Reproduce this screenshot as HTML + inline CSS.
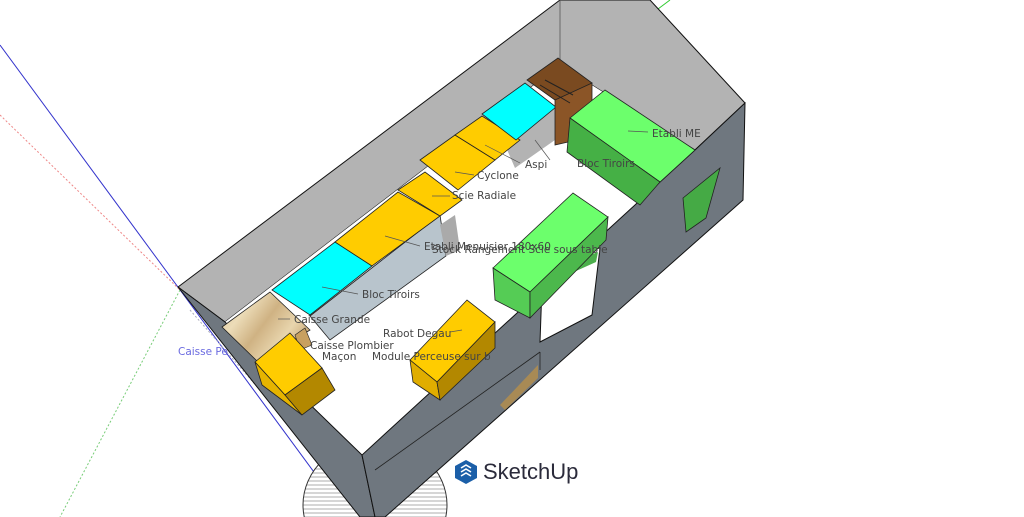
<!DOCTYPE html>
<html><head><meta charset="utf-8"><style>
html,body{margin:0;padding:0;background:#fff;width:1024px;height:517px;overflow:hidden}
svg{display:block}
text{font-family:"DejaVu Sans","Liberation Sans",sans-serif;font-size:10.5px;fill:#444}
</style></head><body>
<svg width="1024" height="517" viewBox="0 0 1024 517">
<defs>
<pattern id="hatch" width="6" height="4" patternUnits="userSpaceOnUse"><rect width="6" height="4" fill="#fff"/><line x1="0" y1="1" x2="6" y2="1" stroke="#999" stroke-width="0.8"/></pattern>
<linearGradient id="wood" x1="0" y1="0" x2="1" y2="0.6"><stop offset="0" stop-color="#d9c194"/><stop offset="0.3" stop-color="#ecdcb8"/><stop offset="0.55" stop-color="#cfb283"/><stop offset="0.8" stop-color="#e8d5ad"/><stop offset="1" stop-color="#c8a878"/></linearGradient>
</defs>
<!-- axis lines -->
<line x1="0" y1="45" x2="347" y2="517" stroke="#3333cc" stroke-width="1"/>
<line x1="0" y1="115" x2="180" y2="290" stroke="#e88" stroke-width="1" stroke-dasharray="2,2"/>
<line x1="180" y1="290" x2="60" y2="517" stroke="#7c7" stroke-width="1" stroke-dasharray="2,2"/>
<line x1="650" y1="15" x2="670" y2="0" stroke="#3c3" stroke-width="1"/>
<line x1="190" y1="310" x2="330" y2="470" stroke="#aab" stroke-width="1" stroke-dasharray="2,2"/>
<!-- hatched cylinder -->
<ellipse cx="375" cy="505" rx="72" ry="65" fill="url(#hatch)" stroke="#333" stroke-width="1"/>
<!-- floor -->
<polygon points="178,287 560,0 650,0 745,103 375,505" fill="#fff"/>
<!-- back wall gray -->
<polygon points="178,287 560,0 650,0 745,103 695,150 560,65 225,322" fill="#b3b3b3" stroke="#111" stroke-width="1"/>
<line x1="560" y1="0" x2="560" y2="65" stroke="#555" stroke-width="0.8"/>
<!-- floor interior -->
<polygon points="225,322 560,65 695,150 362,455" fill="#fff"/>
<!-- left short wall -->
<polygon points="178,287 225,322 362,455 375,517 360,517" fill="#6f777f" stroke="#111" stroke-width="1"/>
<!-- front wall -->
<polygon points="695,150 745,103 743,200 385,517 375,517 362,455" fill="#6f777f" stroke="#111" stroke-width="1"/>
<line x1="375" y1="470" x2="540" y2="352" stroke="#222" stroke-width="0.8"/>
<line x1="540" y1="352" x2="540" y2="370" stroke="#222" stroke-width="0.8"/>
<polygon points="500,405 538,365 538,378 505,410" fill="#a88a55"/>
<!-- windows -->
<polygon points="543,258 600,248 592,315 540,342" fill="#fff" stroke="#111" stroke-width="1"/>
<polygon points="545,272 598,252 596,262 545,285" fill="#4caf4c"/>
<polygon points="683,198 720,168 706,218 686,232" fill="#45aa45" stroke="#222" stroke-width="0.8"/>
<!-- counter front gray face -->
<polygon points="310,316 440,215 446,256 330,340" fill="#b8c4cc" stroke="#222" stroke-width="0.8"/>
<polygon points="440,225 455,215 460,250 446,256" fill="#aaa"/>
<polygon points="505,145 555,108 555,140 515,168" fill="#b3b3b3"/>
<!-- top units -->
<polygon points="222,327 270,292 310,330 258,362" fill="url(#wood)" stroke="#222" stroke-width="0.8"/>
<polygon points="272,290 335,242 372,266 310,315" fill="#00ffff" stroke="#222" stroke-width="0.8"/>
<polygon points="335,242 398,192 440,216 372,266" fill="#ffcc00" stroke="#222" stroke-width="0.8"/>
<polygon points="398,190 425,172 462,200 440,216" fill="#ffcc00" stroke="#222" stroke-width="0.8"/>
<polygon points="420,160 455,135 495,160 458,190" fill="#ffcc00" stroke="#222" stroke-width="0.8"/>
<polygon points="455,135 482,116 520,140 495,160" fill="#ffcc00" stroke="#222" stroke-width="0.8"/>
<polygon points="482,114 525,83 556,107 516,140" fill="#00ffff" stroke="#222" stroke-width="0.8"/>
<!-- brown cabinet -->
<polygon points="527,80 558,58 592,83 580,90 555,100" fill="#7a4a20" stroke="#222" stroke-width="0.8"/>
<polygon points="555,100 592,83 592,110 568,142 555,145" fill="#8b5527" stroke="#222" stroke-width="0.8"/>
<line x1="540" y1="85" x2="570" y2="103" stroke="#222"/>
<line x1="545" y1="80" x2="573" y2="95" stroke="#222"/>
<!-- green Etabli ME -->
<polygon points="570,118 605,90 695,150 660,182" fill="#6cff6c" stroke="#222" stroke-width="0.8"/>
<polygon points="570,118 660,182 640,205 567,152" fill="#45b045" stroke="#222" stroke-width="0.8"/>
<!-- green central -->
<polygon points="493,268 573,193 608,217 530,292" fill="#6cff6c" stroke="#222" stroke-width="0.8"/>
<polygon points="493,268 530,292 530,318 495,300" fill="#55cc55" stroke="#222" stroke-width="0.8"/>
<polygon points="530,292 608,217 606,240 530,318" fill="#4cb84c" stroke="#222" stroke-width="0.8"/>
<!-- Rabot -->
<polygon points="410,360 467,300 495,322 437,382" fill="#ffcc00" stroke="#222" stroke-width="0.8"/>
<polygon points="410,360 437,382 440,400 413,382" fill="#e0ad00" stroke="#222" stroke-width="0.8"/>
<polygon points="437,382 495,322 495,348 440,400" fill="#b38800" stroke="#222" stroke-width="0.8"/>
<!-- small crates -->
<polygon points="295,335 305,328 312,345 300,350" fill="#c8a060" stroke="#222" stroke-width="0.6"/>
<!-- bottom yellow box -->
<polygon points="255,362 290,333 322,368 285,395" fill="#ffcc00" stroke="#222" stroke-width="0.8"/>
<polygon points="255,362 285,395 302,415 262,385" fill="#e6b400" stroke="#222" stroke-width="0.8"/>
<polygon points="285,395 322,368 335,390 302,415" fill="#b38800" stroke="#222" stroke-width="0.8"/>
<!-- leader lines -->
<g stroke="#555" stroke-width="0.7">
<line x1="628" y1="131" x2="648" y2="132"/><line x1="485" y1="145" x2="520" y2="163"/><line x1="455" y1="172" x2="474" y2="175"/>
<line x1="432" y1="196" x2="450" y2="196"/><line x1="385" y1="236" x2="420" y2="246"/><line x1="322" y1="287" x2="358" y2="294"/>
<line x1="278" y1="319" x2="290" y2="319"/><line x1="450" y1="332" x2="462" y2="330"/><line x1="535" y1="140" x2="550" y2="160"/>
</g>
<!-- labels -->
<text x="652" y="137">Etabli ME</text>
<text x="577" y="167">Bloc Tiroirs</text>
<text x="525" y="168">Aspi</text>
<text x="477" y="179">Cyclone</text>
<text x="452" y="199">Scie Radiale</text>
<text x="424" y="250">Etabli Menuisier 180x60</text>
<text x="432" y="253">Stock Rangement Scie sous table</text>
<text x="362" y="298">Bloc Tiroirs</text>
<text x="294" y="323">Caisse Grande</text>
<text x="310" y="349">Caisse Plombier</text>
<text x="322" y="360">Maçon</text>
<text x="383" y="337">Rabot Degau</text>
<text x="372" y="360">Module Perceuse sur b</text>
<text x="178" y="355" style="fill:#6a6ae0">Caisse Pe</text>
<!-- logo -->
<g transform="translate(455,460)">
<path d="M11 0 L22 6 L22 18 L11 24 L0 18 L0 6 Z" fill="#1b5fa8"/>
<path d="M6 8 L11 5 L16 8 M6 12 L11 9 L16 12 M6 16 L11 13 L16 16" stroke="#fff" stroke-width="1.6" fill="none"/>
</g>
<text x="483" y="479" style="font-size:22px;fill:#2b2b3b;font-family:'Liberation Sans',sans-serif">SketchUp</text>
</svg>
</body></html>
